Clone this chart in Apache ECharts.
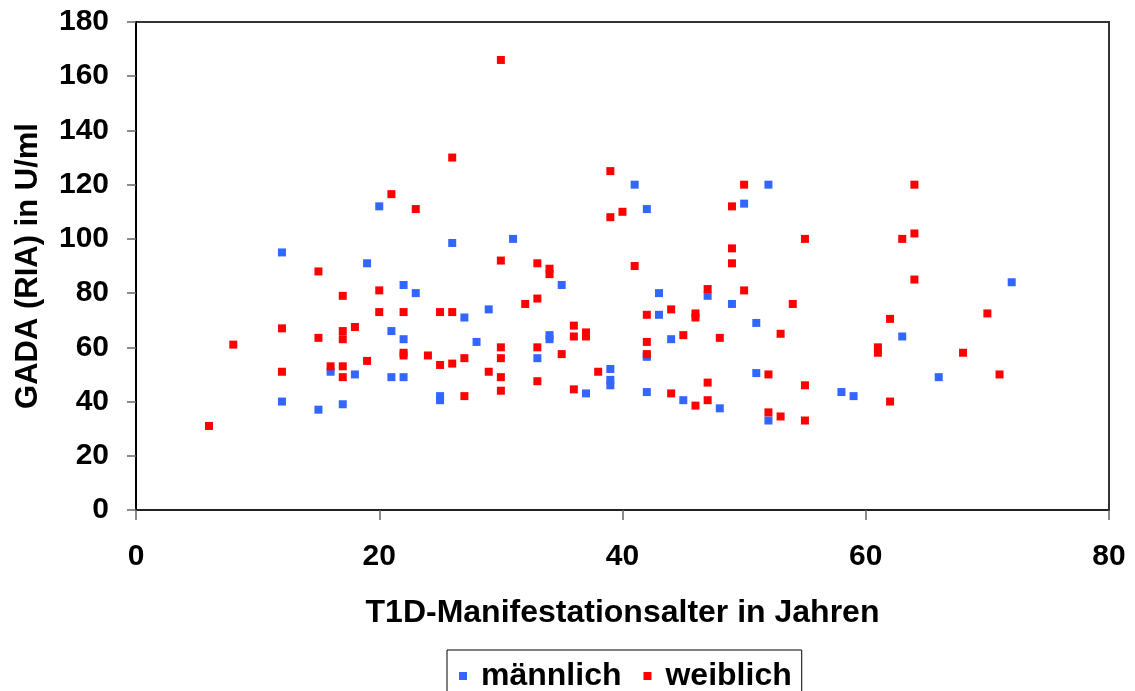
<!DOCTYPE html>
<html>
<head>
<meta charset="utf-8">
<script src="https://cdn.jsdelivr.net/npm/echarts@6/dist/echarts.min.js"></script>
<style>
  html, body { margin: 0; padding: 0; background: #fff; }
  #chart { width: 1135px; height: 691px; }
</style>
</head>
<body>
<div id="chart"></div>
<script>
// Alter bei Manifestation (Jahre) und GADA-Titer (U/ml), getrennt nach Geschlecht
const maleAge = [12, 12, 15, 16, 17, 18, 19, 20, 21, 21, 22, 22, 22, 23, 25, 25, 26, 27, 28, 29,
  31, 33, 34, 34, 35, 37, 39, 39, 39, 41, 42, 42, 42, 42, 43, 43, 44, 45, 47, 48,
  49, 50, 51, 51, 52, 52, 58, 59, 63, 66, 72];
const maleGada = [95, 40, 37, 51, 39, 50, 91, 112, 66, 49, 83, 63, 49, 80, 42, 40.5, 98.5, 71, 62, 74,
  100, 56, 64.5, 63, 83, 43, 52, 48, 46, 120, 111, 57, 56.5, 43.5, 72, 80, 63, 40.5, 79, 37.5,
  76, 113, 69, 50.5, 120, 33, 43.5, 42, 64, 49, 84];

const femaleAge = [6, 8, 12, 12, 15, 15, 16, 17, 17, 17, 17, 17, 18, 19, 20, 20, 21, 22, 22, 22,
  23, 24, 25, 25, 26, 26, 26, 27, 27, 29, 30, 30, 30, 30, 30, 30, 32, 33, 33, 33,
  33, 34, 34, 35, 36, 36, 36, 37, 37, 38, 39, 39, 40, 41, 42, 42, 42, 44, 44, 45,
  46, 46, 46, 47, 47, 47, 48, 49, 49, 49, 50, 50, 52, 52, 53, 53, 54, 55, 55, 55,
  61, 61, 62, 62, 63, 64, 64, 64, 68, 70, 71];
const femaleGada = [31, 61, 67, 51, 88, 63.5, 53, 79, 66, 63, 53, 49, 67.5, 55, 81, 73, 116.5, 73, 58, 57,
  111, 57, 73, 53.5, 130, 73, 54, 56, 42, 51, 166, 92, 60, 56, 49, 44, 76, 91, 78, 60,
  47.5, 89, 87, 57.5, 68, 64, 44.5, 65.5, 64, 51, 125, 108, 110, 90, 72, 62, 57.5, 74, 43, 64.5,
  72.5, 71, 38.5, 81.5, 47, 40.5, 63.5, 112, 96.5, 91, 120, 81, 50, 36, 65, 34.5, 76, 100, 46, 33,
  60, 58, 70.5, 40, 100, 120, 102, 85, 58, 72.5, 50];

const seriesNames = ['männlich', 'weiblich'];
const xTitle = 'T1D-Manifestationsalter in Jahren';
const yTitle = 'GADA (RIA) in U/ml';

const pairs = (xs, ys) => xs.map((x, i) => [x, ys[i]]);

const font = '"Liberation Sans", Arial, sans-serif';
const chart = echarts.init(document.getElementById('chart'), null, { renderer: 'canvas' });

chart.setOption({
  backgroundColor: '#ffffff',
  animation: false,
  grid: {
    left: 136, right: 26, top: 22, bottom: 181,
    show: true, borderColor: '#333333', borderWidth: 2, backgroundColor: 'transparent'
  },
  legend: {
    data: seriesNames,
    left: 447, top: 650,
    orient: 'horizontal',
    icon: 'rect',
    itemWidth: 8, itemHeight: 8, itemGap: 22,
    borderColor: '#000', borderWidth: 1,
    padding: [10, 10, 30, 12],
    textStyle: { fontFamily: font, fontWeight: 'bold', fontSize: 32, color: '#000', padding: [0, 0, 0, 9] }
  },
  xAxis: {
    type: 'value', min: 0, max: 80, interval: 20,
    name: xTitle, nameLocation: 'middle', nameGap: 87,
    nameTextStyle: { fontFamily: font, fontWeight: 'bold', fontSize: 32, color: '#000' },
    axisLine: { show: true, lineStyle: { color: '#222', width: 2 } },
    axisTick: { show: true, length: 10, lineStyle: { color: '#666', width: 1.5 } },
    axisLabel: { margin: 32, fontFamily: font, fontWeight: 'bold', fontSize: 30, color: '#000' },
    splitLine: { show: false }
  },
  yAxis: {
    type: 'value', min: 0, max: 180, interval: 20,
    name: yTitle, nameLocation: 'middle', nameGap: 92, nameRotate: 90,
    nameTextStyle: { fontFamily: font, fontWeight: 'bold', fontSize: 31, color: '#000' },
    axisLine: { show: true, lineStyle: { color: '#000', width: 2 } },
    axisTick: { show: true, length: 9, lineStyle: { color: '#666', width: 1.5 } },
    axisLabel: { margin: 27, fontFamily: font, fontWeight: 'bold', fontSize: 30, color: '#000' },
    splitLine: { show: false }
  },
  series: [
    {
      name: seriesNames[0], type: 'scatter', symbol: 'rect', symbolSize: 8,
      itemStyle: { color: '#3366ff', opacity: 1 },
      data: pairs(maleAge, maleGada)
    },
    {
      name: seriesNames[1], type: 'scatter', symbol: 'rect', symbolSize: 8,
      itemStyle: { color: '#ff0000', opacity: 1 },
      data: pairs(femaleAge, femaleGada)
    }
  ]
});
</script>
</body>
</html>
